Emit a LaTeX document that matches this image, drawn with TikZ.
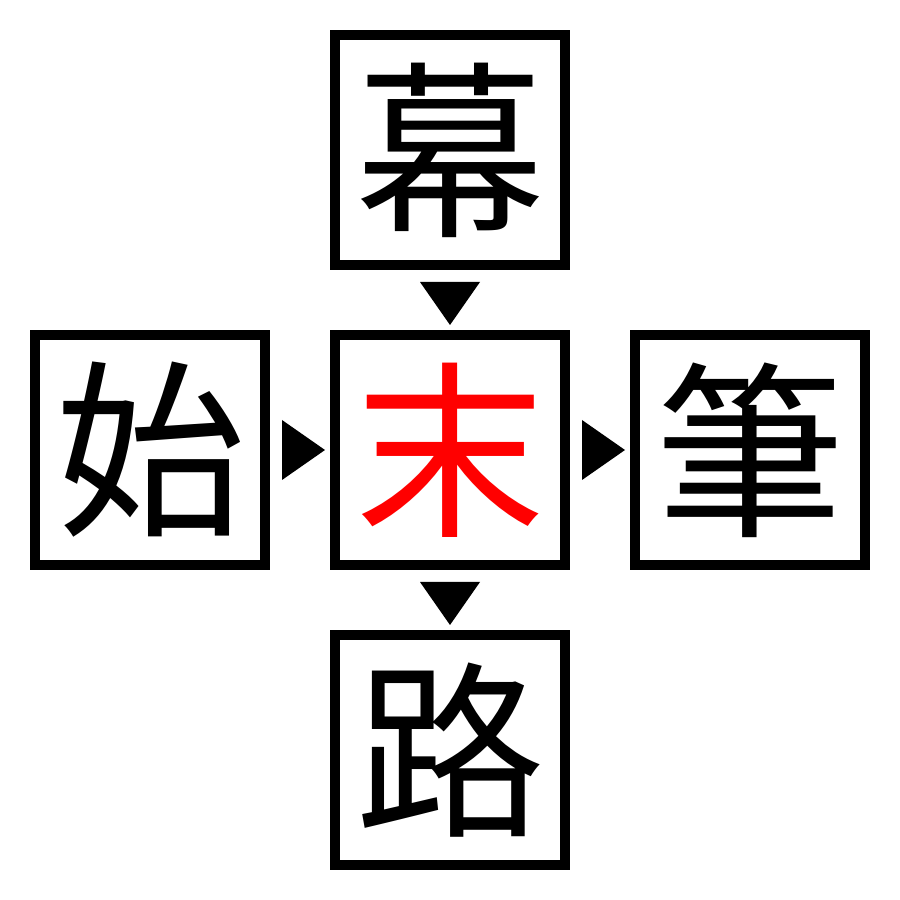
\documentclass[tikz,border=0pt]{standalone}
\usepackage{fontspec}
\newfontfamily\cjk{Noto Sans CJK JP}
\tikzset{kanji/.style = {draw, line width=0.1cm, minimum size=2.3cm, inner sep=0pt, font=\cjk\fontsize{54}{54}\selectfont}}
\usetikzlibrary{calc}

\begin{document}
\begin{tikzpicture}
\useasboundingbox (0,0) rectangle (9,9);
\node [kanji] (top) at (4.5,7.5) {幕};
\node [kanji] (left) at (1.5,4.5) {始};
\node [kanji, text=red] (mid) at (4.5,4.5) {末};
\node [kanji] (right) at (7.5,4.5) {筆};
\node [kanji] (bottom) at (4.5,1.5) {路};
\fill ($(top.south)+(-0.3,-0.12)$) -- ($(top.south)+(0.3,-0.12)$) -- ($(top.south)+(0,-0.55)$) -- cycle;
\fill ($(mid.south)+(-0.3,-0.12)$) -- ($(mid.south)+(0.3,-0.12)$) -- ($(mid.south)+(0,-0.55)$) -- cycle;
\fill ($(left.east)+(0.12,0.3)$) -- ($(left.east)+(0.12,-0.3)$) -- ($(left.east)+(0.55,0)$) -- cycle;
\fill ($(mid.east)+(0.12,0.3)$) -- ($(mid.east)+(0.12,-0.3)$) -- ($(mid.east)+(0.55,0)$) -- cycle;
\end{tikzpicture}
\end{document}
